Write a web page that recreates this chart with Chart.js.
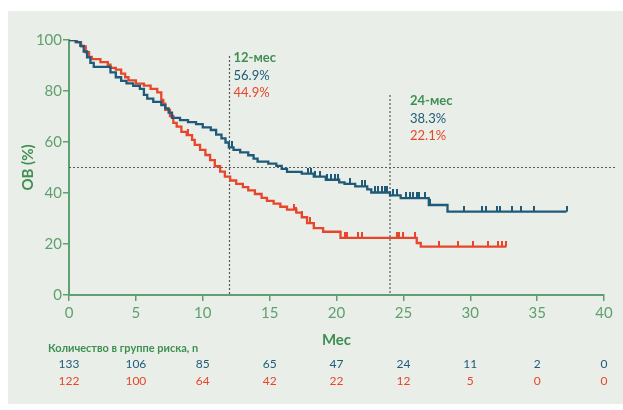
<!DOCTYPE html>
<html>
<head>
<meta charset="utf-8">
<script src="https://cdn.jsdelivr.net/npm/chart.js@4/dist/chart.umd.min.js"></script>
<style>
  html, body { margin: 0; padding: 0; background: #fff; }
  canvas { display: block; }
</style>
</head>
<body>
<canvas id="kmChart" width="623" height="410"></canvas>
<script>
'use strict';

// km curve, blue arm (month, % alive after the step)
const blueTimes = [0, 0.5, 0.85, 1.1, 1.35, 1.6, 1.85, 3.1, 3.5, 3.9, 4.3, 4.8, 5.3, 5.6, 5.85, 6.3, 6.9, 7.2, 7.45, 7.7, 8.3, 8.9, 9.5, 10.0, 10.6, 11.0, 11.4, 11.7, 11.95, 12.3, 12.8, 13.4, 13.8, 14.1, 14.9, 15.5, 15.9, 16.3, 17.4, 18.3, 19.2, 20.2, 20.6, 21.4, 22.3, 22.6, 24.0, 24.8, 26.9, 28.3, 37.2];
const blueSurv = [100, 99.2, 97.7, 95.5, 93.2, 91, 89.5, 87.3, 85.4, 84, 83, 82, 80.8, 78.5, 77, 75.7, 74.5, 73.2, 71.5, 69.5, 68.6, 67.8, 67, 65.7, 64.7, 62.9, 61.4, 59.8, 57.9, 56.9, 55.9, 54.8, 53.5, 52.3, 51.5, 50.6, 49.5, 48.3, 47.6, 46.4, 45.2, 44.2, 43.6, 42.6, 41.4, 40.2, 39.1, 38.0, 35.3, 32.7, 32.7];
const blueCensored = [12.15, 17.9, 18.1, 18.4, 18.8, 19.3, 19.6, 19.9, 20.1, 21.0, 21.9, 22.1, 22.9, 23.1, 23.4, 23.6, 23.8, 24.25, 24.5, 25.2, 25.5, 25.7, 26.0, 26.2, 26.6, 27.0, 29.5, 30.9, 31.2, 32.0, 32.2, 33.1, 33.8, 34.8, 37.2];

// km curve, red arm
const redTimes = [0, 0.6, 0.9, 1.25, 1.5, 1.7, 2.35, 2.9, 3.1, 3.5, 3.9, 4.2, 4.45, 5.0, 5.6, 6.1, 6.6, 6.9, 7.05, 7.2, 7.55, 7.8, 8.05, 8.4, 8.8, 9.2, 9.4, 9.8, 10.2, 10.55, 10.9, 11.3, 11.65, 12.05, 12.5, 13.0, 13.4, 13.9, 14.4, 14.8, 15.3, 15.8, 16.3, 17.0, 17.4, 17.8, 18.3, 19.0, 20.3, 26.0, 26.3, 32.7];
const redSurv = [100, 99.2, 97.5, 95.2, 93.4, 92.5, 91.3, 90.3, 89.1, 88.4, 86.8, 85.4, 84.2, 82.9, 82.1, 80.8, 79.5, 76.5, 75, 72.6, 70.2, 67.5, 66, 64, 62.7, 60.8, 58.9, 56.9, 54.9, 52.9, 50.5, 48.4, 46.4, 44.9, 43.6, 42.3, 41, 39.6, 38.1, 36.9, 35.8, 34.6, 33.5, 32.3, 30.5, 28.2, 26.2, 24.8, 22.4, 20.4, 19.0, 19.0];
const redCensored = [8.9, 16.8, 17.0, 17.4, 17.8, 18.0, 18.3, 20.6, 20.8, 21.6, 21.9, 24.5, 24.7, 25.0, 25.9, 27.7, 29.1, 30.2, 31.3, 32.1, 32.4, 32.7];

// numbers at risk
const riskMonths = [0, 5, 10, 15, 20, 25, 30, 35, 40];
const blueRisk = [133, 106, 85, 65, 47, 24, 11, 2, 0];
const redRisk = [122, 100, 64, 42, 22, 12, 5, 0, 0];

// landmarks
const landmarkMonths = [12, 24];
const landmarkLabels = ['12-мес', '24-мес'];
const blueLandmark = ['56.9%', '38.3%'];
const redLandmark = ['44.9%', '22.1%'];
const medianLine = 50;

const BLUE = '#1f5a78';
const RED = '#e8452a';
const GREEN = '#3f8f52';
const TICK_GREEN = '#5f9f6e';
const FONT = 'Lato, "Open Sans", sans-serif';

// value of the step curve at month t
function survAt(times, surv, t) {
  let s = surv[0];
  for (let i = 0; i < times.length; i++) {
    if (times[i] <= t) s = surv[i];
  }
  return s;
}

function toPoints(times, surv) {
  return times.map((t, i) => ({ x: t, y: surv[i] }));
}

function censorPoints(censored, times, surv) {
  return censored.map(t => ({ x: t, y: survAt(times, surv, t) }));
}

// small upward tick used as censor mark
function censorMark(color) {
  const c = document.createElement('canvas');
  c.width = 2;
  c.height = 12;
  const g = c.getContext('2d');
  g.fillStyle = color;
  g.fillRect(0, 0, 2, 6);
  return c;
}

// panel background
const panelPlugin = {
  id: 'panel',
  beforeDraw(chart) {
    const g = chart.ctx;
    g.save();
    g.fillStyle = '#ffffff';
    g.fillRect(0, 0, chart.width, chart.height);
    g.fillStyle = '#e9efe8';
    g.fillRect(8, 11, chart.width - 8, 393);
    g.restore();
  }
};

// dotted median + landmark lines
const guidePlugin = {
  id: 'guides',
  beforeDatasetsDraw(chart) {
    const g = chart.ctx;
    const x = chart.scales.x;
    const y = chart.scales.y;
    const area = chart.chartArea;
    g.save();
    g.strokeStyle = '#5a5a5a';
    g.lineWidth = 1.2;
    g.setLineDash([2, 2]);
    g.beginPath();
    g.moveTo(area.left, y.getPixelForValue(medianLine));
    g.lineTo(616, y.getPixelForValue(medianLine));
    const tops = [56, 95];
    landmarkMonths.forEach((m, i) => {
      const px = x.getPixelForValue(m);
      g.moveTo(px, tops[i]);
      g.lineTo(px, area.bottom);
    });
    g.stroke();
    g.restore();
  }
};

// landmark labels and risk table
const textPlugin = {
  id: 'texts',
  afterDraw(chart) {
    const g = chart.ctx;
    const x = chart.scales.x;
    g.save();
    g.textBaseline = 'middle';

    const textLeft = [4, 20];
    const textTop = [58, 101];
    landmarkMonths.forEach((m, i) => {
      const px = x.getPixelForValue(m) + textLeft[i];
      g.textAlign = 'left';
      g.font = 'bold 13px ' + FONT;
      g.fillStyle = GREEN;
      g.fillText(landmarkLabels[i], px, textTop[i]);
      g.font = '13px ' + FONT;
      g.fillStyle = BLUE;
      g.fillText(blueLandmark[i], px, textTop[i] + 17.5);
      g.fillStyle = RED;
      g.fillText(redLandmark[i], px, textTop[i] + 35);
    });

    g.font = 'bold 11px ' + FONT;
    g.fillStyle = GREEN;
    g.textAlign = 'left';
    g.fillText('Количество в группе риска, n', 48, 348);

    g.font = '12px ' + FONT;
    g.textAlign = 'center';
    riskMonths.forEach((m, i) => {
      const px = x.getPixelForValue(m);
      g.fillStyle = BLUE;
      g.fillText(String(blueRisk[i]), px, 364);
      g.fillStyle = RED;
      g.fillText(String(redRisk[i]), px, 381);
    });
    g.restore();
  }
};

const ctx = document.getElementById('kmChart').getContext('2d');

const data = {
  datasets: [
    {
      label: 'blue',
      data: toPoints(blueTimes, blueSurv),
      borderColor: BLUE,
      borderWidth: 2.3,
      stepped: true,
      pointRadius: 0,
      fill: false
    },
    {
      label: 'red',
      data: toPoints(redTimes, redSurv),
      borderColor: RED,
      borderWidth: 2.3,
      stepped: true,
      pointRadius: 0,
      fill: false
    },
    {
      label: 'blue censored',
      data: censorPoints(blueCensored, blueTimes, blueSurv),
      showLine: false,
      pointStyle: censorMark(BLUE),
      pointRadius: 6
    },
    {
      label: 'red censored',
      data: censorPoints(redCensored, redTimes, redSurv),
      showLine: false,
      pointStyle: censorMark(RED),
      pointRadius: 6
    }
  ]
};

const axisTicks = {
  color: TICK_GREEN,
  font: { family: FONT, size: 15 }
};

const options = {
  responsive: false,
  animation: false,
  layout: {
    padding: { top: 40, right: 19, left: 0, bottom: 0 }
  },
  plugins: {
    legend: { display: false },
    tooltip: { enabled: false }
  },
  scales: {
    x: {
      type: 'linear',
      min: 0,
      max: 40,
      ticks: Object.assign({ stepSize: 5, padding: 3 }, axisTicks),
      grid: {
        drawOnChartArea: false,
        drawTicks: true,
        tickLength: 6,
        color: '#5fa070',
        lineWidth: 1.5
      },
      border: { color: '#5fa070', width: 2 },
      title: {
        display: true,
        text: 'Мес',
        color: GREEN,
        font: { family: FONT, size: 15, weight: 'bold' },
        padding: { top: 0, bottom: 61 }
      },
      afterFit(scale) {
        scale.height = 115;
      }
    },
    y: {
      min: 0,
      max: 100,
      ticks: Object.assign({ stepSize: 20, padding: 1 }, axisTicks),
      grid: {
        drawOnChartArea: false,
        drawTicks: true,
        tickLength: 6,
        color: '#5fa070',
        lineWidth: 1.5
      },
      border: { color: '#5fa070', width: 2 },
      title: {
        display: true,
        text: 'ОВ (%)',
        color: GREEN,
        font: { family: FONT, size: 15, weight: 'bold' },
        padding: { top: 19, bottom: 0 }
      },
      afterFit(scale) {
        scale.width = 69;
      }
    }
  }
};

new Chart(ctx, {
  type: 'line',
  data: data,
  options: options,
  plugins: [panelPlugin, guidePlugin, textPlugin]
});
</script>
</body>
</html>
